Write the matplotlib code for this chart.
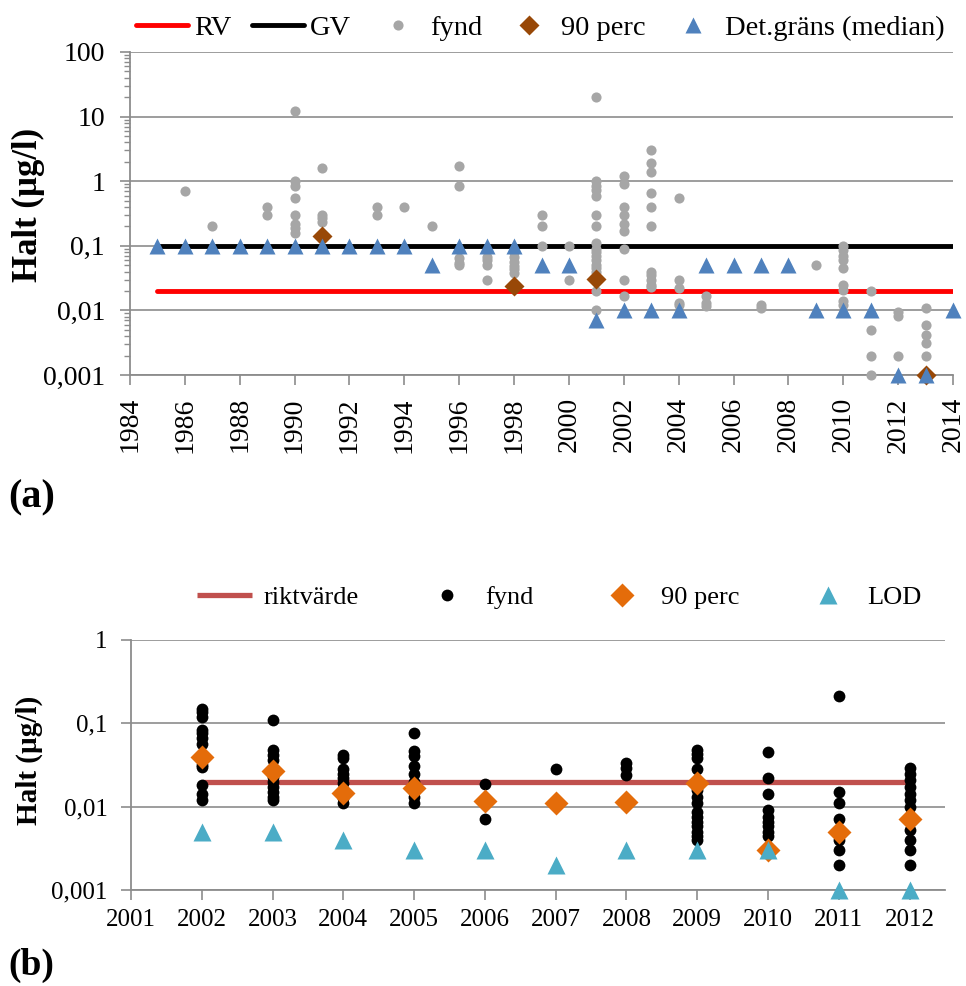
import matplotlib
matplotlib.use("Agg")
import matplotlib.pyplot as plt
from matplotlib.ticker import FixedLocator, LogLocator, NullFormatter

plt.rcParams['font.family'] = ['Liberation Serif', 'DejaVu Serif']

# (a) data
fynd_a_years = [1986, 1987, 1989, 1990, 1991, 1993, 1994, 1995, 1996, 1997,
                1998, 1999, 2000, 2001, 2002, 2003, 2004, 2005, 2007, 2009,
                2010, 2011, 2012, 2013]
fynd_a_values = [
    [0.7],
    [0.2],
    [0.4, 0.3],
    [12, 1.0, 0.85, 0.55, 0.3, 0.22, 0.19, 0.16],
    [1.6, 0.3, 0.27, 0.23],
    [0.4, 0.3],
    [0.4],
    [0.2],
    [1.7, 0.84, 0.065, 0.055, 0.05],
    [0.068, 0.06, 0.05, 0.03],
    [0.08, 0.068, 0.056, 0.048, 0.043, 0.038],
    [0.3, 0.2, 0.1],
    [0.1, 0.03],
    [20, 1.0, 0.85, 0.72, 0.6, 0.3, 0.2, 0.11, 0.09, 0.08, 0.07, 0.06, 0.05,
     0.045, 0.04, 0.02, 0.01],
    [1.2, 0.9, 0.4, 0.3, 0.22, 0.17, 0.09, 0.03, 0.017],
    [3.0, 1.9, 1.4, 0.65, 0.4, 0.2, 0.04, 0.035, 0.03, 0.025, 0.023],
    [0.55, 0.03, 0.022, 0.013, 0.012],
    [0.017, 0.013, 0.0115],
    [0.012, 0.011],
    [0.05],
    [0.1, 0.085, 0.07, 0.06, 0.046, 0.025, 0.021, 0.014, 0.012],
    [0.02, 0.005, 0.002, 0.001],
    [0.0093, 0.0081, 0.002],
    [0.011, 0.006, 0.0042, 0.0031, 0.002],
]
perc_a_years = [1991, 1998, 2001, 2013]
perc_a_values = [0.14, 0.024, 0.031, 0.001]
det_a_years = list(range(1985, 2015))
det_a_values = [0.1, 0.1, 0.1, 0.1, 0.1, 0.1, 0.1, 0.1, 0.1, 0.1,
                0.05, 0.1, 0.1, 0.1, 0.05, 0.05, 0.007, 0.01, 0.01, 0.01,
                0.05, 0.05, 0.05, 0.05, 0.01, 0.01, 0.01, 0.001, 0.001, 0.01]
rv_years = [1985, 2014]
rv_values = [0.02, 0.02]
gv_years = [1985, 2014]
gv_values = [0.1, 0.1]

# (b) data
fynd_b_years = list(range(2002, 2013))
fynd_b_values = [
    [0.15, 0.135, 0.12, 0.083, 0.076, 0.066, 0.057, 0.032, 0.03, 0.018, 0.014, 0.012],
    [0.11, 0.048, 0.042, 0.036, 0.023, 0.02, 0.017, 0.015, 0.013, 0.012],
    [0.042, 0.038, 0.028, 0.025, 0.022, 0.019, 0.0126, 0.011],
    [0.076, 0.046, 0.041, 0.031, 0.025, 0.02, 0.015, 0.013, 0.011],
    [0.0186, 0.0071],
    [0.028],
    [0.033, 0.029, 0.024],
    [0.048, 0.043, 0.038, 0.028, 0.016, 0.013, 0.011, 0.0087, 0.0076, 0.0066,
     0.0058, 0.005, 0.0044, 0.004],
    [0.045, 0.022, 0.014, 0.0091, 0.0076, 0.0066, 0.0058, 0.005, 0.0044],
    [0.21, 0.015, 0.011, 0.0072, 0.004, 0.003, 0.002],
    [0.029, 0.025, 0.021, 0.017, 0.014, 0.012, 0.01, 0.0052, 0.004, 0.003, 0.002],
]
perc_b_years = list(range(2002, 2013))
perc_b_values = [0.039, 0.027, 0.0145, 0.0167, 0.0117, 0.011, 0.0115, 0.019,
                 0.003, 0.005, 0.0071]
lod_years = list(range(2002, 2013))
lod_values = [0.005, 0.005, 0.004, 0.003, 0.003, 0.002, 0.003, 0.003, 0.003,
              0.001, 0.001]
rikt_years = [2002, 2012]
rikt_values = [0.02, 0.02]

y_ticks_a = [0.001, 0.01, 0.1, 1, 10, 100]
y_labels_a = ['0,001', '0,01', '0,1', '1', '10', '100']
y_ticks_b = [0.001, 0.01, 0.1, 1]
y_labels_b = ['0,001', '0,01', '0,1', '1']

GRID = '#8c8c8c'


def flatten(years, values):
    xs, ys = [], []
    for yr, vals in zip(years, values):
        for v in vals:
            xs.append(yr)
            ys.append(v)
    return xs, ys


def style_axes(ax, yticks, ylabels, fs, minor, ypad, xpad):
    ax.set_yscale('log')
    ax.yaxis.set_major_locator(FixedLocator(yticks))
    ax.set_yticklabels(ylabels, fontsize=fs)
    if minor:
        ax.yaxis.set_minor_locator(LogLocator(base=10, subs=range(2, 10)))
        ax.yaxis.set_minor_formatter(NullFormatter())
        ax.tick_params(axis='y', which='minor', length=4, width=1, color=GRID)
    else:
        ax.yaxis.set_minor_locator(FixedLocator([]))
    ax.grid(True, axis='y', which='major', color=GRID, linewidth=1.2)
    ax.set_axisbelow(True)
    for s in ['top', 'right']:
        ax.spines[s].set_visible(False)
    for s in ['left', 'bottom']:
        ax.spines[s].set_color(GRID)
        ax.spines[s].set_linewidth(1.3)
    ax.tick_params(axis='both', which='major', length=7, width=1.2, color=GRID)
    ax.tick_params(axis='y', which='major', pad=ypad)
    ax.tick_params(axis='x', which='major', pad=xpad)


fig = plt.figure(figsize=(9.66, 9.86), dpi=100)

# ---- (a) ----
ax1 = fig.add_axes([130 / 966, 1 - 375 / 986, 823 / 966, 323 / 986])
ax1.plot(rv_years, rv_values, color='#ff0000', lw=3.5, solid_capstyle='round',
         label='RV', zorder=3)
ax1.plot(gv_years, gv_values, color='black', lw=3.5, solid_capstyle='round',
         label='GV', zorder=3)
fx, fy = flatten(fynd_a_years, fynd_a_values)
ax1.plot(fx, fy, 'o', color='#a6a6a6', ms=7.3, mec='none', label='fynd',
         zorder=4, clip_on=False)
ax1.plot(perc_a_years, perc_a_values, 'D', color='#984807', ms=10, mec='none',
         label='90 perc', zorder=5, clip_on=False)
ax1.plot(det_a_years, det_a_values, '^', color='#4f81bd', ms=11, mec='none',
         label='Det.gräns (median)', zorder=6, clip_on=False)
ax1.set_xlim(1984, 2014)
ax1.set_ylim(0.001, 100)
style_axes(ax1, y_ticks_a, y_labels_a, 20, True, 11, 9)
ax1.set_xticks(list(range(1984, 2015, 2)))
ax1.set_xticklabels([str(y) for y in range(1984, 2015, 2)], rotation=90,
                    fontsize=20)
ax1.set_ylabel('Halt (µg/l)', fontsize=25, fontweight='bold')
ax1.yaxis.set_label_coords(45 / 966, (1 - 205 / 986), transform=fig.transFigure)
fig.legend(*ax1.get_legend_handles_labels(), loc='center',
           bbox_to_anchor=(540 / 966, 1 - 28 / 986), ncol=5, frameon=False,
           fontsize=20.5, handlelength=1.85, handletextpad=0.2,
           columnspacing=0.72, borderaxespad=0, borderpad=0)

# ---- (b) ----
ax2 = fig.add_axes([131 / 966, 1 - 890 / 986, 814 / 966, 250 / 986])
ax2.plot(rikt_years, rikt_values, color='#c0504d', lw=3.8,
         solid_capstyle='butt', label='riktvärde', zorder=3)
bx, by = flatten(fynd_b_years, fynd_b_values)
ax2.plot(bx, by, 'o', color='black', ms=8.5, mec='none', label='fynd',
         zorder=4, clip_on=False)
ax2.plot(perc_b_years, perc_b_values, 'D', color='#e46c0a', ms=12, mec='none',
         label='90 perc', zorder=5, clip_on=False)
ax2.plot(lod_years, lod_values, '^', color='#4bacc6', ms=13, mec='none',
         label='LOD', zorder=6, clip_on=False)
ax2.set_xlim(2001, 2012.5)
ax2.set_ylim(0.001, 1)
style_axes(ax2, y_ticks_b, y_labels_b, 18, False, 10, 7)
ax2.set_xticks(list(range(2001, 2013)))
ax2.set_xticklabels([str(y) for y in range(2001, 2013)], fontsize=18)
ax2.set_ylabel('Halt (µg/l)', fontsize=21, fontweight='bold')
ax2.yaxis.set_label_coords(43 / 966, (1 - 760 / 986), transform=fig.transFigure)
fig.legend(*ax2.get_legend_handles_labels(), loc='center',
           bbox_to_anchor=(559 / 966, 1 - 597 / 986), ncol=4, frameon=False,
           fontsize=19, handlelength=2.1, handletextpad=0.42,
           columnspacing=2.3, borderaxespad=0, borderpad=0)

fig.text(8 / 966, 1 - 498 / 986, '(a)', fontsize=29, fontweight='bold',
         va='center', ha='left')
fig.text(8 / 966, 1 - 965 / 986, '(b)', fontsize=27, fontweight='bold',
         va='center', ha='left')

fig.savefig('out.png', dpi=100)
